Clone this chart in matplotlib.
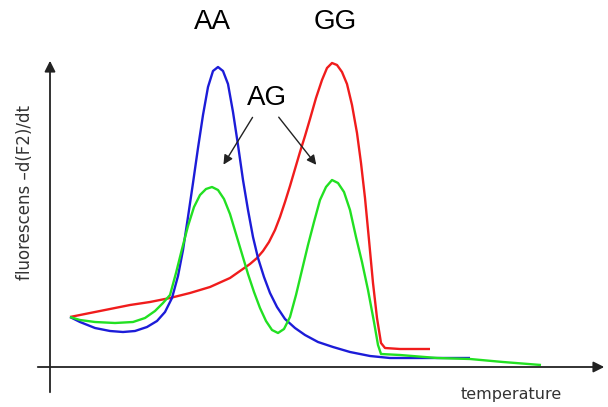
import matplotlib
matplotlib.use('Agg')
import matplotlib.pyplot as plt

# melting curves (temperature in arbitrary units, signal in arbitrary units)
temp_aa = [20, 30, 45, 60, 73, 85, 97, 107, 115, 122, 128, 133, 138, 143, 148, 153, 158, 163, 168,
           173, 178, 183, 188, 193, 198, 203, 208, 214, 220, 227, 235, 245, 255, 268, 283, 300, 320,
           340, 380, 420]
sig_aa = [50, 45, 39, 36, 35, 36, 40, 46, 55, 69, 91, 117, 150, 184, 219, 252, 280, 296, 300,
          296, 283, 255, 222, 187, 157, 130, 109, 90, 74, 60, 48, 39, 32, 25, 20, 15, 11,
          9, 9, 9]

temp_ag = [20, 30, 45, 65, 83, 95, 105, 113, 120, 126, 132, 138, 144, 150, 156, 162, 168, 174,
           180, 186, 192, 198, 204, 210, 216, 222, 228, 234, 240, 246, 252, 258, 264, 270, 276,
           282, 288, 294, 300, 306, 312, 318, 324, 328, 331, 350, 387, 420, 453, 491]
sig_ag = [50, 47, 45, 44, 45, 49, 56, 64, 72, 94, 118, 141, 160, 172, 178, 180, 177, 168,
          153, 133, 113, 93, 75, 59, 46, 37, 34, 38, 50, 72, 97, 122, 145, 167, 180,
          187, 184, 175, 157, 130, 105, 77, 45, 22, 13, 12, 9, 8, 5, 2]

temp_gg = [20, 40, 60, 80, 100, 120, 140, 160, 180, 190, 200, 207, 213, 219, 225, 230, 235, 240,
           245, 250, 255, 260, 266, 272, 277, 282, 287, 292, 297, 302, 307, 311, 315, 319, 323,
           327, 331, 335, 350, 380]
sig_gg = [50, 54, 58, 62, 65, 69, 74, 80, 89, 96, 103, 109, 116, 125, 137, 150, 165, 181,
          198, 215, 231, 248, 269, 287, 299, 304, 302, 295, 283, 262, 234, 204, 169, 127, 84,
          49, 24, 19, 18, 18]

fig = plt.figure(figsize=(6.08, 4.07), dpi=100)
ax = fig.add_axes([0, 0, 1, 1])
ax.set_xlim(-50, 558)
ax.set_ylim(-40, 367)
ax.axis('off')

ax.plot(temp_gg, sig_gg, color='#f01c1c', lw=1.7, solid_capstyle='butt')
ax.plot(temp_aa, sig_aa, color='#1c1cd8', lw=1.7, solid_capstyle='butt')
ax.plot(temp_ag, sig_ag, color='#22e022', lw=1.7, solid_capstyle='butt')

# hand drawn axes with arrow heads
axis_style = dict(arrowstyle='-|>', color='#222222', lw=1.3, mutation_scale=16)
ax.annotate('', xy=(557, 0), xytext=(-15, 0), arrowprops=axis_style)
ax.annotate('', xy=(0, 309), xytext=(0, -28), arrowprops=axis_style)

ax.text(-25, 175, 'fluorescens \u2013d(F2)/dt', rotation=90, ha='center', va='center',
        fontsize=12, color='#333333')
ax.text(461, -28, 'temperature', ha='center', va='center', fontsize=11.5, color='#333333')

lab = dict(ha='center', va='center', fontsize=20, family='Liberation Sans', color='black')
ax.text(162, 345, 'AA', **lab)
ax.text(285, 345, 'GG', **lab)
ax.text(217, 269, 'AG', **lab)

pointer = dict(arrowstyle='-|>', color='#222222', lw=1.0, mutation_scale=14)
ax.annotate('', xy=(172, 200), xytext=(204, 252), arrowprops=pointer)
ax.annotate('', xy=(268, 200), xytext=(227, 252), arrowprops=pointer)

fig.savefig('out.png', dpi=100)
